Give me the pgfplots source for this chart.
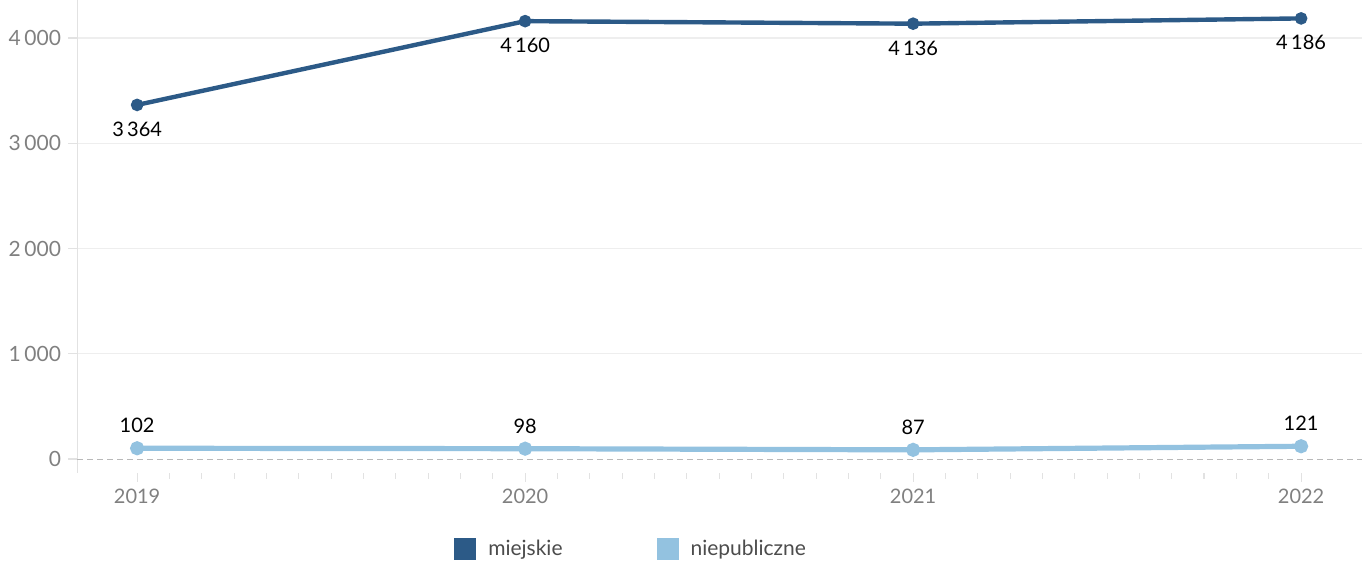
\documentclass[border=0pt]{standalone}
\usepackage{fontspec}
\setmainfont{Lato}
\usepackage{pgfplots}
\pgfplotsset{compat=1.18}
\usetikzlibrary{calc}

\definecolor{miej}{HTML}{2C5A87}
\definecolor{niep}{HTML}{93C2E0}
\definecolor{tickgray}{HTML}{808080}
\definecolor{gridgray}{HTML}{EEEEEE}
\definecolor{axisgray}{HTML}{E2E2E2}

\begin{document}
\begin{tikzpicture}
\begin{axis}[
    scale only axis,
    width=642.5pt, height=236.5pt,
    xmin=2018.845, xmax=2022.157,
    ymin=-133, ymax=4361,
    clip=false,
    x axis line style={draw=none},
    y axis line style={draw=axisgray},
    axis x line*=bottom, axis y line*=left,
    xtick={2019,2020,2021,2022},
    xticklabels={2019,2020,2021,2022},
    minor x tick num=11,
    ytick={1000,2000,3000,4000},
    extra y ticks={0},
    extra y tick style={grid style={densely dashed, color=gray!55, line width=0.5pt}},
    ymajorgrids,
    grid style={color=gridgray, line width=0.7pt},
    tick align=outside,
    major tick length=4.5pt, minor tick length=3pt,
    tick style={color=axisgray, line width=0.6pt},
    /pgf/number format/.cd, 1000 sep={\,}, assume math mode=true,
    /pgfplots/.cd,
    y tick label style={font=\fontsize{10.5}{12}\selectfont, color=tickgray},
    x tick label style={font=\fontsize{10}{12}\selectfont, color=tickgray},
    legend columns=2,
    legend style={at={(0.432,-0.161)}, anchor=center, draw=none,
        font=\fontsize{10.5}{12}\selectfont, text=black!70,
        /tikz/every even column/.append style={column sep=45pt}},
    legend image code/.code={%
        \fill[draw=none] (0pt,-5.5pt) rectangle (11pt,5.5pt);
        \path[draw=none, fill=none] (0pt,0pt) -- (15pt,0pt);},
    nodes near coords,
    point meta=explicit symbolic,
    every node near coord/.append style={font=\fontsize{10}{12}\selectfont, text=black},
]
\addplot[color=miej, line width=2.2pt, mark=*, mark size=2pt,
    every node near coord/.append style={anchor=north, yshift=-4pt}]
    coordinates {
        (2019,3364) [3\,364]
        (2020,4160) [4\,160]
        (2021,4136) [4\,136]
        (2022,4186) [4\,186]
    };
\addlegendentry{miejskie}
\addplot[color=niep, line width=2.6pt, mark=*, mark size=2.2pt,
    every node near coord/.append style={anchor=south, yshift=3pt}]
    coordinates {
        (2019,102) [102]
        (2020,98) [98]
        (2021,87) [87]
        (2022,121) [121]
    };
\addlegendentry{niepubliczne}
\end{axis}
\pgfresetboundingbox
\useasboundingbox ($(current axis.south west)+(-38.5pt,-44pt)$) rectangle (current axis.north east);
\end{tikzpicture}
\end{document}
